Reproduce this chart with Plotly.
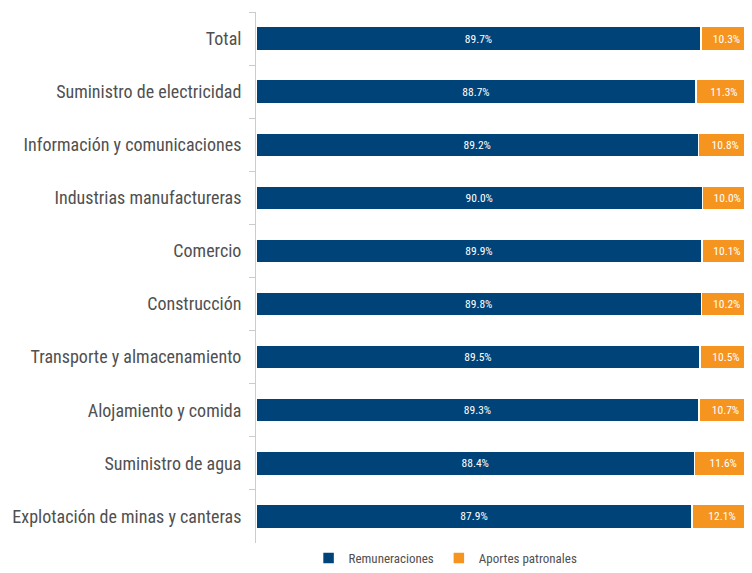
import plotly.graph_objects as go

sectores = [
    'Total',
    'Suministro de electricidad',
    'Información y comunicaciones',
    'Industrias manufactureras',
    'Comercio',
    'Construcción',
    'Transporte y almacenamiento',
    'Alojamiento y comida',
    'Suministro de agua',
    'Explotación de minas y canteras',
]
remuneraciones = [89.7, 88.7, 89.2, 90.0, 89.9, 89.8, 89.5, 89.3, 88.4, 87.9]
aportes = [10.3, 11.3, 10.8, 10.0, 10.1, 10.2, 10.5, 10.7, 11.6, 12.1]

azul = '#004379'
naranja = '#f5951f'
fuente = 'Roboto Condensed, Liberation Sans Narrow, DejaVu Sans Condensed, Roboto'

bar = lambda vals, name, color: go.Bar(
    y=sectores,
    x=vals,
    name=name,
    orientation='h',
    marker=dict(color=color, line=dict(color='white', width=1.5)),
    text=[f'{v:.1f}%' for v in vals],
    textposition='inside',
    insidetextanchor='middle',
    textfont=dict(color='white', size=11.5, family=fuente),
    width=0.45,
    hoverinfo='x+name',
)

fig = go.Figure()
fig.add_trace(bar(remuneraciones, 'Remuneraciones', azul))
fig.add_trace(bar(aportes, 'Aportes patronales', naranja))

# la página agrega 8px de margen al body: se descuentan aquí
fig.update_layout(
    barmode='stack',
    width=744,
    height=565,
    plot_bgcolor='white',
    paper_bgcolor='white',
    margin=dict(t=4, r=0, b=18, l=248),
    font=dict(family=fuente, color='#505050'),
    uniformtext=dict(minsize=8, mode='show'),
    xaxis=dict(
        range=[0, 100],
        visible=False,
        showgrid=False,
    ),
    yaxis=dict(
        autorange='reversed',
        automargin=False,
        showline=True,
        linecolor='#cccccc',
        linewidth=1,
        ticks='outside',
        tickson='boundaries',
        ticklen=6,
        tickcolor='#cccccc',
        ticklabelstandoff=10,
        tickfont=dict(size=18, color='#505050', family=fuente),
        showgrid=False,
    ),
    legend=dict(
        orientation='h',
        x=0.106,
        xanchor='left',
        yref='container',
        y=0.0,
        yanchor='bottom',
        font=dict(size=13, color='#505050', family=fuente),
        traceorder='normal',
    ),
    showlegend=True,
)

fig.write_html('out.html')
